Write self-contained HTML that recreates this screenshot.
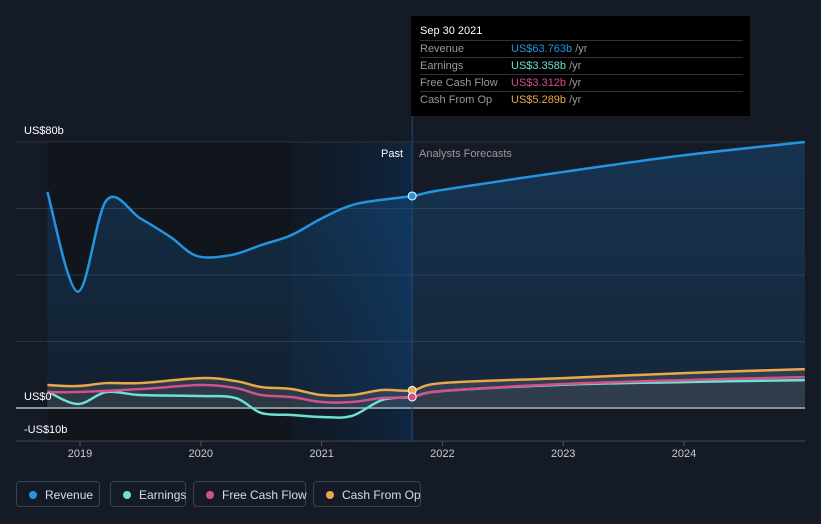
<!DOCTYPE html>
<html><head><meta charset="utf-8"><style>
body{margin:0;background:#151b26;font-family:"Liberation Sans",sans-serif;}
#wrap{position:relative;width:821px;height:524px;overflow:hidden;background:#151b26;}
.tip{position:absolute;left:411px;top:16px;width:339px;height:100px;background:#000;color:#fff;font-size:11px;}
.tip .h{position:absolute;left:9px;top:9px;}
.row{position:absolute;left:9px;width:323px;border-top:1px solid #333;height:16px;line-height:16px;color:#999;}
.row span{position:absolute;left:91px;}
.leg{position:absolute;top:481px;height:26px;border:1px solid #3a4150;border-radius:4px;color:#ddd;font-size:12px;line-height:26px;padding-left:28px;box-sizing:border-box;white-space:nowrap;}
.leg i{position:absolute;left:12px;top:9px;width:8px;height:8px;border-radius:50%;}
</style></head><body>
<div id="wrap">
<svg id="svg" width="821" height="524" style="position:absolute;left:0;top:0">
<defs>
<linearGradient id="rg" x1="0" y1="0" x2="0" y2="1"><stop offset="0" stop-color="#1e88e5" stop-opacity="0.22"/><stop offset="1" stop-color="#1e88e5" stop-opacity="0.1"/></linearGradient>
<linearGradient id="hg" x1="0" y1="0" x2="1" y2="0"><stop offset="0" stop-color="#0d2a4a" stop-opacity="0.15"/><stop offset="1" stop-color="#0d3a6e" stop-opacity="0.45"/></linearGradient>
</defs>
</svg>
<div class="tip">
<div class="h">Sep 30 2021</div>
<div class="row" style="top:24px">Revenue<span><b style="font-weight:normal;color:#2394df">US$63.763b</b> /yr</span></div>
<div class="row" style="top:41px">Earnings<span><b style="font-weight:normal;color:#6ee0cf">US$3.358b</b> /yr</span></div>
<div class="row" style="top:58px">Free Cash Flow<span><b style="font-weight:normal;color:#d4508a">US$3.312b</b> /yr</span></div>
<div class="row" style="top:75px">Cash From Op<span><b style="font-weight:normal;color:#e9a84c">US$5.289b</b> /yr</span></div>
</div>
<div class="leg" style="left:16px;width:84px"><i style="background:#2394df"></i>Revenue</div>
<div class="leg" style="left:110px;width:76px"><i style="background:#6ee0cf"></i>Earnings</div>
<div class="leg" style="left:193px;width:113px"><i style="background:#d4508a"></i>Free Cash Flow</div>
<div class="leg" style="left:313px;width:108px"><i style="background:#e9a84c"></i>Cash From Op</div>
</div>
<script>
const revT=[2018.73,2018.98,2019.22,2019.5,2019.75,2019.97,2020.25,2020.5,2020.75,2021.0,2021.29,2021.75,2022.0,2023.0,2024.0,2025.0];
const revV=[65,35,62.5,57,51.4,45.7,46,49,52,57,61.4,63.763,65.6,71,76,80];
const earnT=[2018.73,2018.98,2019.22,2019.5,2020.0,2020.29,2020.5,2020.75,2021.0,2021.25,2021.5,2021.75,2022.0,2023.0,2024.0,2025.0];
const earnV=[5,1.2,4.8,3.9,3.6,3,-1.5,-2.1,-2.7,-2.4,2.4,3.358,5.1,7,7.8,8.4];
const fcfT=[2018.73,2018.98,2019.5,2020.0,2020.29,2020.5,2020.75,2021.0,2021.25,2021.5,2021.75,2022.0,2023.0,2024.0,2025.0];
const fcfV=[4.8,4.8,5.7,6.9,6,3.9,3.3,1.8,1.8,3,3.312,5.1,7.2,8.4,9.3];
const cfoT=[2018.73,2018.98,2019.22,2019.5,2020.0,2020.29,2020.5,2020.75,2021.0,2021.25,2021.5,2021.75,2022.0,2023.0,2024.0,2025.0];
const cfoV=[6.9,6.6,7.5,7.5,9,8.1,6.3,5.7,3.9,3.9,5.4,5.289,7.5,9,10.5,11.7];
const yTicks=[80,60,40,20,0,-10];
const xYears=[2019,2020,2021,2022,2023,2024];
const X=t=>80+(t-2019)*120.8, Y=v=>408-v*3.325;
const NS='http://www.w3.org/2000/svg', svg=document.getElementById('svg');
function mk(tag,a,parent){const e=document.createElementNS(NS,tag);for(const k in a)e.setAttribute(k,a[k]);(parent||svg).appendChild(e);return e;}
function path(T,V){const p=T.map((t,i)=>[X(t),Y(V[i])]);let d='M'+p[0][0]+','+p[0][1];
for(let i=0;i<p.length-1;i++){const p0=p[i-1]||p[i],p1=p[i],p2=p[i+1],p3=p[i+2]||p2;
d+=`C${p1[0]+(p2[0]-p0[0])/6},${p1[1]+(p2[1]-p0[1])/6} ${p2[0]-(p3[0]-p1[0])/6},${p2[1]-(p3[1]-p1[1])/6} ${p2[0]},${p2[1]}`;}return d;}
const x0=X(revT[0]), xNow=X(2021.75), xEnd=805;
let e;
e=mk('rect',{x:x0,y:142,width:xNow-x0,height:299,fill:'#11151c'});

e=mk('rect',{x:X(2020.75),y:142,width:xNow-X(2020.75),height:299,fill:'url(#hg)'});

yTicks.forEach(v=>{e=mk('line',{x1:16,x2:xEnd,y1:Y(v),y2:Y(v),stroke:v===0?'#bbb':'#2c3340','stroke-width':v===0?1.5:1});
});
mk('line',{x1:16,x2:xEnd,y1:441,y2:441,stroke:'#3a4150'});
e=mk('path',{d:path(revT,revV)+`L${xEnd},${Y(0)}L${x0},${Y(0)}Z`,fill:'url(#rg)'});

e=mk('path',{d:path(cfoT,cfoV)+`L${xEnd},${Y(0)}L${x0},${Y(0)}Z`,fill:'rgba(150,150,150,0.2)'});

mk('line',{x1:xNow,x2:xNow,y1:116,y2:441,stroke:'#1f4a7a'});
const series=[[earnT,earnV,'#6ee0cf','earnings-line'],[cfoT,cfoV,'#e9a84c','cash-from-op-line'],[fcfT,fcfV,'#d4508a','free-cash-flow-line'],[revT,revV,'#2394df','revenue-line']];
series.forEach(s=>{e=mk('path',{d:path(s[0],s[1]),fill:'none',stroke:s[2],'stroke-width':2.5});

const i=s[0].indexOf(2021.75);
e=mk('circle',{cx:X(s[0][i]),cy:Y(s[1][i]),r:4,fill:s[2],stroke:'#fff','stroke-width':1});
});
function txt(x,y,s,attrs,name){const t=mk('text',Object.assign({x:x,y:y,fill:'#fff','font-size':11,'font-family':'Liberation Sans, sans-serif'},attrs));t.textContent=s;
return t;}
txt(24,134,'US$80b',{},'y-label-80b');txt(24,400,'US$0',{},'y-label-0');txt(24,433,'-US$10b',{},'y-label-neg10b');
txt(403,157,'Past',{'text-anchor':'end'},'past-label');txt(419,157,'Analysts Forecasts',{fill:'#999'},'forecast-label');
xYears.forEach(y=>{mk('line',{x1:X(y),x2:X(y),y1:441,y2:446,stroke:'#555'});
txt(X(y),457,String(y),{'text-anchor':'middle',fill:'#ccc'},'x-tick-'+y);});
</script>
</body></html>
